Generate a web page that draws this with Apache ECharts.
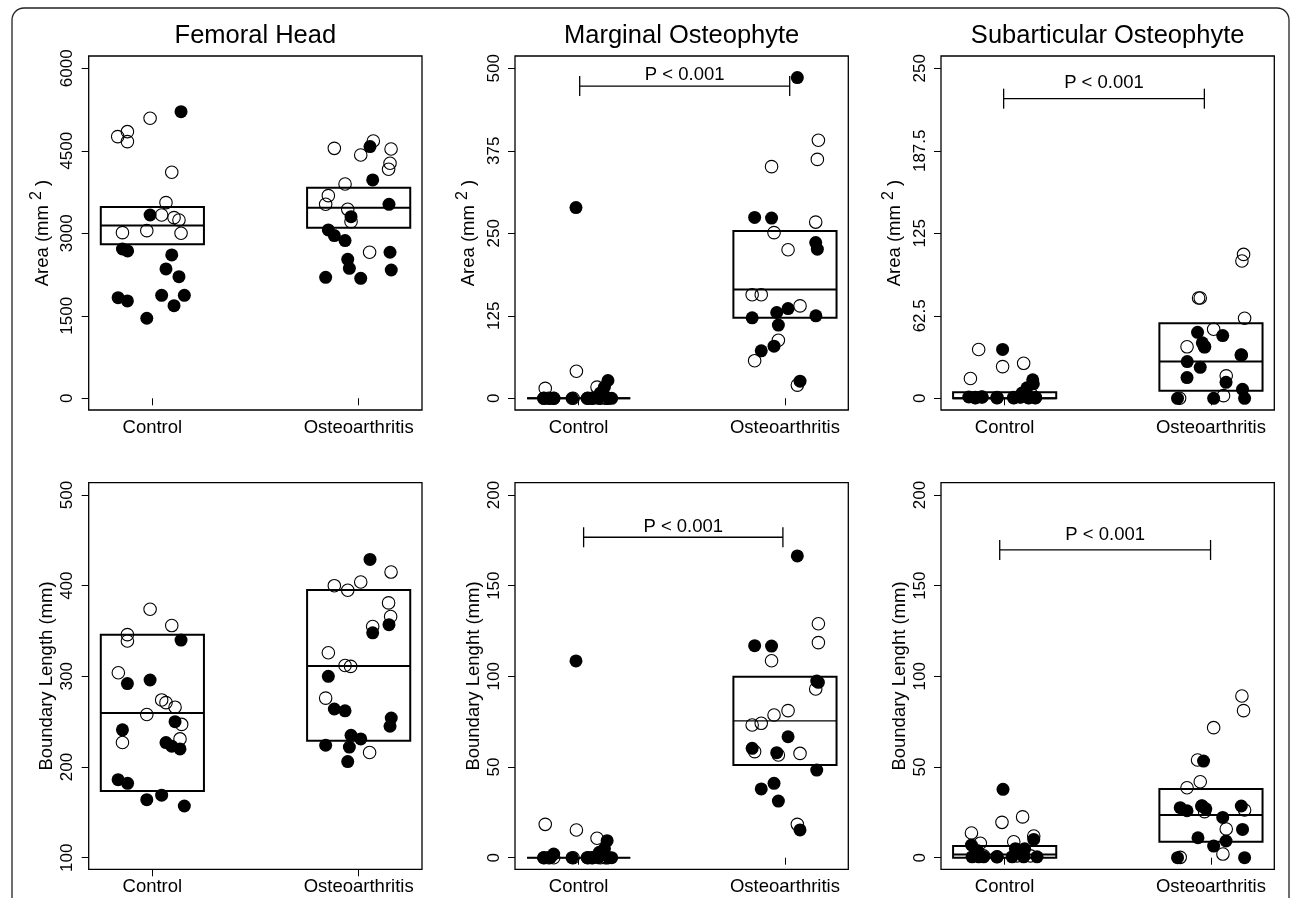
<!DOCTYPE html>
<html><head><meta charset="utf-8">
<script src="https://cdn.jsdelivr.net/npm/echarts@6/dist/echarts.min.js"></script>
<style>html,body{margin:0;padding:0;background:#fff}#c{width:1292px;height:898px}</style>
</head><body><div id="c"></div>
<script>
// ---------- DATA ----------
const categories = ['Control', 'Osteoarthritis'];
const panelTitles = ['Femoral Head', 'Marginal Osteophyte', 'Subarticular Osteophyte'];
const pLabel = 'P < 0.001';

const areaTicksFH = [0, 1500, 3000, 4500, 6000];
const areaTicksMO = [0, 125, 250, 375, 500];
const areaTicksSO = [0, 62.5, 125, 187.5, 250];
const lenTicksFH = [100, 200, 300, 400, 500];
const lenTicksMO = [0, 50, 100, 150, 200];
const lenTicksSO = [0, 50, 100, 150, 200];

// Femoral Head – Area  [jitter x, value]
const fhAreaCtrlOpen = [[0.832,4758],[0.879,4848],[0.879,4667],[0.989,5091],[1.094,4109],[1.066,3558],[1.045,3333],[1.105,3285],[1.129,3242],[0.855,3012],[0.973,3048],[1.139,3000]];
const fhAreaCtrlFilled = [[1.139,5212],[0.989,3333],[0.855,2715],[0.880,2679],[1.094,2606],[1.066,2352],[1.129,2212],[0.834,1830],[0.879,1770],[1.045,1873],[1.155,1873],[1.105,1685],[0.973,1455]];
const fhAreaOaOpen = [[1.882,4545],[2.071,4679],[2.010,4424],[2.157,4533],[2.152,4273],[2.145,4164],[1.934,3897],[1.853,3685],[1.840,3527],[1.947,3436],[1.963,3212],[2.053,2655]];
const fhAreaOaFilled = [[2.055,4576],[2.068,3970],[2.147,3527],[1.963,3303],[1.853,3061],[1.882,2958],[1.934,2867],[2.152,2655],[1.947,2527],[1.955,2364],[2.158,2333],[1.840,2200],[2.010,2182]];
const fhAreaBox = [[1,2800,3140,3480],[2,3100,3465,3830]]; // [group, Q1, median, Q3]

// Marginal Osteophyte – Area
const moAreaCtrlOpen = [[0.838,15],[0.989,41],[1.089,17],[0.879,0],[0.855,0],[0.973,0],[1.066,0],[1.045,0],[1.105,0],[1.129,0],[1.139,0],[0.832,0]];
const moAreaCtrlFilled = [[0.987,289],[1.142,27],[1.125,17],[1.105,8],[0.830,0],[0.863,0],[0.880,0],[0.968,0],[1.041,0],[1.065,0],[1.094,0],[1.146,0],[1.160,0]];
const moAreaOaOpen = [[1.935,351],[2.162,391],[2.157,362],[2.149,267],[1.947,251],[2.015,225],[1.841,157],[1.885,157],[2.073,140],[1.968,88],[1.853,57],[2.060,20]];
const moAreaOaFilled = [[2.060,486],[1.853,274],[1.935,273],[2.149,236],[2.157,226],[1.841,122],[1.960,130],[2.015,136],[1.968,111],[2.150,125],[1.885,72],[1.947,79],[2.073,26]];
const moAreaBox = [[1,0,0,0],[2,122,165,253.5]];
const moAreaP = [[1.005,2.023,473,490]]; // [x1, x2, bar value, text value]

// Subarticular Osteophyte – Area
const soAreaCtrlOpen = [[0.874,37],[0.990,24],[1.092,26.5],[0.834,15],[0.858,0.5],[0.890,1],[0.963,0.5],[1.044,0.5],[1.076,1],[1.116,0.5],[1.149,0.5],[1.130,3]];
const soAreaCtrlFilled = [[0.990,37],[1.136,14],[1.139,11],[1.108,8],[1.084,4],[0.826,1],[0.858,0.5],[0.890,1],[0.963,0.5],[1.044,0.5],[1.076,1],[1.116,0.5],[1.149,0.5]];
const soAreaOaOpen = [[2.158,109],[2.150,104],[1.940,76],[1.948,76],[2.163,60.6],[2.013,52.3],[1.884,39],[2.074,17],[2.061,2],[1.848,0],[1.969,39],[2.147,32.8]];
const soAreaOaFilled = [[1.935,50],[2.057,47.5],[1.958,42],[1.969,39],[2.147,32.8],[1.885,27.8],[1.948,23.5],[1.884,15.7],[2.073,12.1],[2.153,6.8],[1.838,0],[2.013,0],[2.163,0]];
const soAreaBox = [[1,0,0,4.5],[2,5.8,27.8,56.8]];
const soAreaP = [[0.995,1.968,227,238.6]];

// Femoral Head – Boundary length
const fhLenCtrlOpen = [[0.989,374],[1.094,356],[0.879,346],[0.879,339],[0.835,304],[1.045,274],[1.066,271],[1.110,266],[0.973,258],[1.142,247],[0.855,227],[1.134,231]];
const fhLenCtrlFilled = [[1.139,340],[0.989,296],[0.879,292],[1.110,250],[0.855,241],[1.066,227],[1.094,223],[1.134,220],[0.834,186],[0.880,182],[1.045,169],[0.973,164],[1.155,157]];
const fhLenOaOpen = [[1.882,400],[1.947,395],[2.010,404],[2.157,415],[2.145,381],[2.155,366],[2.068,355],[1.853,326],[1.934,312],[1.961,311],[1.840,276],[2.053,216]];
const fhLenOaFilled = [[2.055,429],[2.147,357],[2.068,348],[1.853,300],[1.882,264],[1.934,262],[2.158,254],[2.152,245],[1.963,235],[2.010,231],[1.840,224],[1.955,222],[1.947,206]];
const fhLenBox = [[1,173.5,259.6,346],[2,229,311.4,395.2]];

// Marginal Osteophyte – Boundary length
const moLenCtrlOpen = [[0.838,18.4],[0.989,15.3],[1.089,10.7],[0.879,0],[0.855,0],[0.973,0],[1.066,0],[1.045,0],[1.105,0],[1.129,0],[1.139,0],[0.832,0]];
const moLenCtrlFilled = [[0.987,108.5],[1.138,9.4],[1.125,5],[1.100,3],[0.830,0],[0.863,0],[0.879,2],[0.968,0],[1.041,0],[1.065,0],[1.094,0],[1.146,0],[1.160,0]];
const moLenOaOpen = [[2.162,129],[2.162,118.6],[1.935,108.6],[2.149,93],[2.015,81.1],[1.947,78.7],[1.885,74.1],[1.841,73.2],[1.853,58.5],[1.968,56.6],[2.073,57.5],[2.060,18.4]];
const moLenOaFilled = [[2.060,166.4],[1.853,116.9],[1.935,116.7],[2.154,97.4],[2.162,96.7],[2.015,66.7],[1.841,60.3],[1.960,57.9],[2.154,48.3],[1.947,41],[1.885,37.9],[1.968,31.2],[2.073,15.3]];
const moLenBox = [[1,0,0,0],[2,51.1,75.5,99.8]];
const moLenP = [[1.024,1.990,176.7,182.5]];

// Subarticular Osteophyte – Boundary length
const soLenCtrlOpen = [[0.987,19.5],[1.087,22.5],[0.839,13.6],[0.882,8],[1.044,8.8],[1.141,12],[0.874,1],[0.898,1],[0.963,0.5],[1.060,1],[1.092,1],[1.125,1]];
const soLenCtrlFilled = [[0.992,37.7],[1.141,10.1],[0.839,7],[0.867,4],[1.052,5],[1.097,5],[0.842,0.5],[0.874,0.5],[0.898,0.5],[0.963,0.5],[1.036,0.5],[1.092,0.5],[1.157,0.5]];
const soLenOaOpen = [[2.150,89.2],[2.158,81.1],[2.013,71.7],[1.935,53.9],[1.948,41.9],[1.884,38.6],[1.969,25.4],[2.163,26.3],[2.074,15.8],[2.058,2],[1.851,0.2],[1.956,28.5]];
const soLenOaFilled = [[1.964,53.3],[1.851,27.6],[1.884,25.9],[1.956,28.5],[2.147,28.5],[2.057,22.2],[2.153,15.6],[1.937,11],[2.073,9.2],[2.013,6.4],[1.838,0],[2.163,0],[1.975,27]];
const soLenBox = [[1,0,1.8,6.4],[2,8.8,23.5,37.9]];
const soLenP = [[0.976,1.998,169.7,178]];

// ---------- LAYOUT / STYLE ----------
const FONT = "'Liberation Sans', Arial, Helvetica, sans-serif";
const X_MIN = 0.6914, X_MAX = 2.307;
const colLeft = [88.7, 515, 941], colW = 333.3;
const rowTop = [56, 482.7], rowH = [354, 386.6];
const rowPadTop = [12.3, 12.3], rowPadBot = [11.7, 11.6];
const areaName = '{a|Area (mm }{s|2}{a| )}';

const panels = [
  {col:0,row:0,yName:areaName,range:[0,6000],ticks:areaTicksFH,co:fhAreaCtrlOpen,cf:fhAreaCtrlFilled,oo:fhAreaOaOpen,of:fhAreaOaFilled,box:fhAreaBox,p:null,medW:2},
  {col:1,row:0,yName:areaName,range:[0,500],ticks:areaTicksMO,co:moAreaCtrlOpen,cf:moAreaCtrlFilled,oo:moAreaOaOpen,of:moAreaOaFilled,box:moAreaBox,p:moAreaP,medW:2},
  {col:2,row:0,yName:areaName,range:[0,250],ticks:areaTicksSO,co:soAreaCtrlOpen,cf:soAreaCtrlFilled,oo:soAreaOaOpen,of:soAreaOaFilled,box:soAreaBox,p:soAreaP,medW:2},
  {col:0,row:1,yName:'Boundary Length (mm)',range:[100,500],ticks:lenTicksFH,co:fhLenCtrlOpen,cf:fhLenCtrlFilled,oo:fhLenOaOpen,of:fhLenOaFilled,box:fhLenBox,p:null,medW:2},
  {col:1,row:1,yName:'Boundary Lenght (mm)',range:[0,200],ticks:lenTicksMO,co:moLenCtrlOpen,cf:moLenCtrlFilled,oo:moLenOaOpen,of:moLenOaFilled,box:moLenBox,p:moLenP,medW:1.3},
  {col:2,row:1,yName:'Boundary Lenght (mm)',range:[0,200],ticks:lenTicksSO,co:soLenCtrlOpen,cf:soLenCtrlFilled,oo:soLenOaOpen,of:soLenOaFilled,box:soLenBox,p:soLenP,medW:2}
];

const option = {
  animation: false, backgroundColor: '#fff',
  grid: [], xAxis: [], yAxis: [], series: [], graphic: []
};

panels.forEach((p, i) => {
  const span = rowH[p.row] - rowPadTop[p.row] - rowPadBot[p.row];
  const lo = p.range[0], hi = p.range[1], r = hi - lo;
  option.grid.push({left: colLeft[p.col], top: rowTop[p.row], width: colW, height: rowH[p.row],
    show: true, borderColor: '#000', borderWidth: 1.3, backgroundColor: 'transparent'});
  option.xAxis.push({type: 'value', gridIndex: i, min: X_MIN, max: X_MAX,
    splitLine: {show: false}, axisLine: {show: false},
    axisTick: {show: true, length: 7, customValues: [1, 2], lineStyle: {color: '#000', width: 1}},
    axisLabel: {customValues: [1, 2], formatter: v => categories[Math.round(v) - 1],
      color: '#000', fontSize: 18.5, fontFamily: FONT, margin: 8.5}});
  option.yAxis.push({type: 'value', gridIndex: i,
    min: lo - rowPadBot[p.row] / span * r, max: hi + rowPadTop[p.row] / span * r,
    splitLine: {show: false}, axisLine: {show: false},
    axisTick: {show: true, length: 7, customValues: p.ticks, lineStyle: {color: '#000', width: 1}},
    axisLabel: {customValues: p.ticks, formatter: v => String(v), rotate: 90, margin: 12.5,
      color: '#000', fontSize: 17, fontFamily: FONT},
    name: p.yName, nameLocation: 'middle', nameRotate: 90, nameGap: 32,
    nameTextStyle: {color: '#000', fontSize: 18.5, fontFamily: FONT,
      rich: {a: {fontSize: 18.5, fontFamily: FONT, color: '#000'},
             s: {fontSize: 16, fontFamily: FONT, color: '#000', padding: [0, 0, 12, 0]}}}});

  // boxes
  option.series.push({type: 'custom', xAxisIndex: i, yAxisIndex: i, z: 2, silent: true,
    data: p.box, encode: {x: 0, y: [1, 2, 3]},
    renderItem: (params, api) => {
      const c = api.value(0), q1 = api.value(1), md = api.value(2), q3 = api.value(3);
      const tl = api.coord([c - 0.25, q3]), br = api.coord([c + 0.25, q1]);
      const ml = api.coord([c - 0.25, md]), mr = api.coord([c + 0.25, md]);
      return {type: 'group', children: [
        {type: 'rect', shape: {x: tl[0], y: tl[1], width: br[0] - tl[0], height: br[1] - tl[1]},
          style: {fill: 'none', stroke: '#000', lineWidth: 2}},
        {type: 'line', shape: {x1: ml[0], y1: ml[1], x2: mr[0], y2: mr[1]},
          style: {stroke: '#000', lineWidth: p.medW}}
      ]};
    }});
  // points
  option.series.push({type: 'scatter', xAxisIndex: i, yAxisIndex: i, z: 3, silent: true,
    data: p.co.concat(p.oo), symbol: 'circle', symbolSize: 12.5,
    itemStyle: {color: 'rgba(0,0,0,0)', borderColor: '#000', borderWidth: 1.1, opacity: 1}});
  option.series.push({type: 'scatter', xAxisIndex: i, yAxisIndex: i, z: 4, silent: true,
    data: p.cf.concat(p.of), symbol: 'circle', symbolSize: 13,
    itemStyle: {color: '#000', opacity: 1}});
  // p-value bracket
  if (p.p) {
    option.series.push({type: 'custom', xAxisIndex: i, yAxisIndex: i, z: 5, silent: true,
      data: p.p, encode: {x: [0, 1], y: [2, 3]},
      renderItem: (params, api) => {
        const a = api.coord([api.value(0), api.value(2)]);
        const b = api.coord([api.value(1), api.value(2)]);
        const t = api.coord([(api.value(0) + api.value(1)) / 2, api.value(3)]);
        const ls = {stroke: '#000', lineWidth: 1.3};
        return {type: 'group', children: [
          {type: 'line', shape: {x1: a[0], y1: a[1], x2: b[0], y2: b[1]}, style: ls},
          {type: 'line', shape: {x1: a[0], y1: a[1] - 10, x2: a[0], y2: a[1] + 10}, style: ls},
          {type: 'line', shape: {x1: b[0], y1: b[1] - 10, x2: b[0], y2: b[1] + 10}, style: ls},
          {type: 'text', x: t[0], y: t[1], style: {text: pLabel, fill: '#000', fontSize: 18.5,
            fontFamily: FONT, align: 'center', verticalAlign: 'middle',
            textAlign: 'center', textVerticalAlign: 'middle'}}
        ]};
      }});
  }
});

// titles
panelTitles.forEach((t, c) => {
  option.graphic.push({type: 'text', x: colLeft[c] + colW / 2, y: 36, silent: true,
    style: {text: t, fill: '#000', fontSize: 25.5, fontFamily: FONT,
      align: 'center', verticalAlign: 'middle', textAlign: 'center', textVerticalAlign: 'middle'}});
});
// outer rounded frame
option.graphic.push({type: 'rect', silent: true, z: -1,
  shape: {x: 12, y: 8, width: 1277, height: 910, r: 12},
  style: {fill: 'none', stroke: '#222', lineWidth: 1.3}});

const chart = echarts.init(document.getElementById('c'), null, {renderer: 'canvas'});
chart.setOption(option);
</script></body></html>
